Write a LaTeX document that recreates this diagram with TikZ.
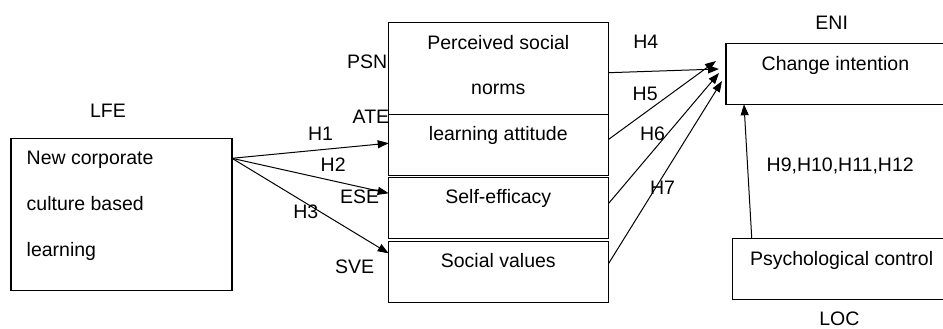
\documentclass[tikz,border=0pt]{standalone}
\usepackage{fontspec}
\setmainfont{Liberation Sans}
\usetikzlibrary{arrows.meta,calc}
\begin{document}
\begin{tikzpicture}[x=1pt,y=-1pt,
  every node/.style={font=\fontsize{19.5}{23}\selectfont, inner sep=0pt, outer sep=0pt},
  box/.style={draw, line width=1.1pt, rectangle},
  lbl/.style={anchor=base west},
  ctr/.style={anchor=base},
  arr/.style={line width=1pt, -{Triangle[length=11pt,width=8pt]}},
  ln/.style={line width=1pt}]
\useasboundingbox (0,0) rectangle (943,329);
\clip (0,0) rectangle (943,329);
% boxes
\node[box, minimum width=221pt, minimum height=152.4pt] (lfe) at (121.5,214.5) {};
\node[box, minimum width=220pt, minimum height=92pt] (psn) at (498.7,68.7) {};
\node[box, minimum width=220pt, minimum height=61pt] (ate) at (498.7,145.2) {};
\node[box, minimum width=220pt, minimum height=61pt] (ese) at (498.7,208.2) {};
\node[box, minimum width=220pt, minimum height=61.3pt] (sve) at (498.7,271.7) {};
\node[box, minimum width=229pt, minimum height=61pt] (eni) at (840.5,73.8) {};
\node[box, minimum width=222.7pt, minimum height=61pt] (loc) at (843.7,268.8) {};
% texts
\node[lbl] (t1) at (26.7,164.3) {New corporate};
\node[lbl] (t2) at (26.7,210.7) {culture based};
\node[lbl] (t3) at (26.7,256) {learning};
\node[ctr] (lfelbl) at (108,117.3) {LFE};
\node[ctr] (t4) at (498.3,49.3) {Perceived social};
\node[ctr] (t5) at (498.3,95) {norms};
\node[ctr] (t6) at (498.3,140) {learning attitude};
\node[ctr] (t7) at (498.3,203.3) {Self-efficacy};
\node[ctr] (t8) at (498.3,267.7) {Social values};
\node[lbl] (psnlbl) at (347,68.3) {PSN};
\node[lbl] (atelbl) at (352.7,123.3) {ATE};
\node[lbl] (eselbl) at (340,203.3) {ESE};
\node[lbl] (svelbl) at (335,273.3) {SVE};
\node[lbl] (h1) at (308,140) {H1};
\node[lbl] (h2) at (320.7,171.7) {H2};
\node[lbl] (h3) at (293.3,218.3) {H3};
\node[lbl] (h4) at (633.3,48.3) {H4};
\node[lbl] (h5) at (632.7,100) {H5};
\node[lbl] (h6) at (640,140) {H6};
\node[lbl] (h7) at (650,194) {H7};
\node[ctr] (enilbl) at (831.7,29.3) {ENI};
\node[lbl] (t9) at (761.7,70.7) {Change intention};
\node[lbl] (h9) at (766.7,171.7) {H9,H10,H11,H12};
\node[lbl] (t10) at (750,265) {Psychological control};
\node[ctr] (loclbl) at (839.3,325) {LOC};
% connectors
\coordinate (src) at ($(lfe.north east)+(0,20)$);
\draw[arr] (src) -- ($(ate.west)+(0,-2)$);
\draw[arr] (src) -- ($(ese.north west)+(0,15.6)$);
\draw[arr] (src) -- ($(sve.north west)+(0,12.3)$);
\draw[arr] ($(psn.east)+(0,4)$) -- ($(eni.west)+(-7,-4.8)$);
\draw[arr] ($(ate.north east)+(0,24.6)$) -- ($(eni.west)+(-10,-12.8)$);
\draw[arr] ($(ese.north east)+(0,25.6)$) -- ($(eni.west)+(-7,-0.8)$);
\draw[arr] ($(sve.north east)+(0,22.3)$) -- ($(eni.west)+(-4,7.2)$);
\draw[arr] ($(loc.north west)+(19.4,0)$) -- ($(eni.south west)+(18,0)$);
\end{tikzpicture}
\end{document}
